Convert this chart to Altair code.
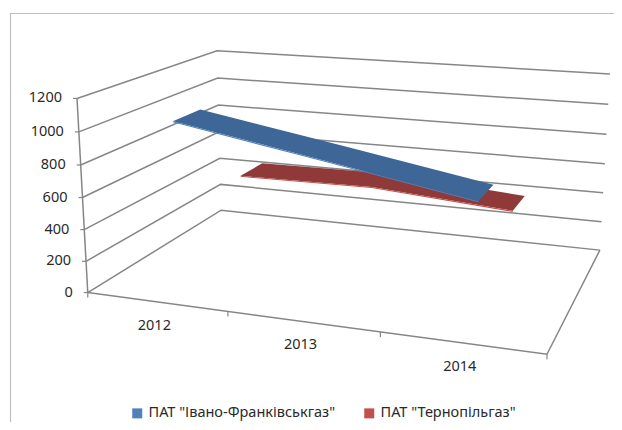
import numpy as np
import pandas as pd
import altair as alt

YEARS = ["2012", "2013", "2014"]
SERIES = ['ПАТ "Івано-Франківськгаз"', 'ПАТ "Тернопільгаз"']
BLUE = [1040, 885, 727]
RED = [470, 478, 410]
VALUE_TICKS = [0, 200, 400, 600, 800, 1000, 1200]
SERIES_VALUES = [BLUE, RED]
TOP_COLORS = ["#3E6797", "#8F3A38"]
EDGE_COLORS = ["#4F81BD", "#C0504D"]
GRID = "#868686"
FONT = "Noto Sans"

# Camera of the 3-D box: (category position, depth, value) seen at page pixel
CAL_WORLD = [(0, 0, 0), (0, 0, 1200), (0, 1, 0), (0, 1, 1200), (3, 0, 0), (3, 1, 0), (3, 1, 1200), (1, 0, 0), (2, 0, 0)]
CAL_PAGE = [(88, 291.5), (77, 98), (221, 210), (217, 51), (547, 353), (600, 250), (610, 74), (228, 313), (380, 333)]


def fit_camera():
    a, b = [], []
    for (t, d, v), (u, w) in zip(CAL_WORLD, CAL_PAGE):
        X, Y, Z = t / 3, d, v / 1200
        a.append([X, Y, Z, 1, 0, 0, 0, 0, -u * X, -u * Y, -u * Z]); b.append(u)
        a.append([0, 0, 0, 0, X, Y, Z, 1, -w * X, -w * Y, -w * Z]); b.append(w)
    s = np.linalg.lstsq(np.array(a, float), np.array(b, float), rcond=None)[0]
    return np.append(s, 1).reshape(3, 4)


CAM = fit_camera()


def proj(t, d, v):
    p = CAM @ np.array([t / 3, d, v / 1200, 1])
    return p[0] / p[2], p[1] / p[2]


def path(pid, pts, **extra):
    rows = []
    for i, (t, d, v) in enumerate(pts):
        x, y = proj(t, d, v)
        rows.append(dict(pid=pid, i=i, x=x, y=y, **extra))
    return rows


W, H = 606, 414
xs = alt.Scale(domain=[8, 8 + W], nice=False, zero=False)
ys = alt.Scale(domain=[8 + H, 8], nice=False, zero=False)
X = alt.X("x:Q", scale=xs, axis=None)
Y = alt.Y("y:Q", scale=ys, axis=None)

# box
rows = []
for v in VALUE_TICKS:
    rows += path(f"g{v}", [(0, 0, v), (0, 1, v), (3, 1, v)])
rows += path("axis", [(0, 0, 0), (0, 0, 1200)])
rows += path("floor", [(3, 1, 0), (3, 0, 0), (0, 0, 0)])
box = alt.Chart(pd.DataFrame(rows)).mark_line(color=GRID, strokeWidth=1.5).encode(
    x=X, y=Y, detail="pid:N", order="i:Q")

# ticks
t_rows = []
for v in VALUE_TICKS:
    x, y = proj(0, 0, v)
    t_rows.append(dict(x=x, y=y, x2=x - 4, y2=y))
for t in range(4):
    x, y = proj(t, 0, 0)
    t_rows.append(dict(x=x, y=y, x2=x, y2=y + 5))
ticks = alt.Chart(pd.DataFrame(t_rows)).mark_rule(color=GRID, strokeWidth=1.2).encode(
    x=X, y=Y, x2="x2:Q", y2="y2:Q")

# labels
vl = pd.DataFrame([dict(x=proj(0, 0, v)[0] - 15, y=proj(0, 0, v)[1], s=str(v)) for v in VALUE_TICKS])
val_text = alt.Chart(vl).mark_text(align="right", baseline="middle", font=FONT, fontSize=14.5, color="#2A2A2A").encode(
    x=X, y=Y, text="s:N")
cl = pd.DataFrame([dict(x=proj(i + .5, 0, 0)[0] - 2, y=proj(i + .5, 0, 0)[1] + 24, s=yr) for i, yr in enumerate(YEARS)])
cat_text = alt.Chart(cl).mark_text(align="center", baseline="middle", font=FONT, fontSize=14.5, color="#2A2A2A").encode(
    x=X, y=Y, text="s:N")

# ribbons, drawn back row first
DEPTHS = [(0.153, 0.347), (0.653, 0.847)]
layers = []
for k in (1, 0):
    vals = SERIES_VALUES[k]
    d1, d2 = DEPTHS[k]
    ts = [i + .5 for i in range(3)]
    top_pts = [(t, d1, v) for t, v in zip(ts, vals)] + [(t, d2, v) for t, v in reversed(list(zip(ts, vals)))]
    top = pd.DataFrame(path("top", top_pts, series=SERIES[k]))
    edge_pts = [(t, d1, v) for t, v in zip(ts, vals)] + [(t, d1, v - 7) for t, v in reversed(list(zip(ts, vals)))]
    edge = pd.DataFrame(path("edge", edge_pts, series=SERIES[k]))
    layers.append(alt.Chart(top).mark_line(filled=True, fill=TOP_COLORS[k], strokeWidth=0).encode(x=X, y=Y, order="i:Q"))
    layers.append(alt.Chart(edge).mark_line(filled=True, strokeWidth=0).encode(
        x=X, y=Y, order="i:Q",
        color=alt.Color("series:N", scale=alt.Scale(domain=SERIES, range=EDGE_COLORS),
                        legend=alt.Legend(title=None, orient="none", legendX=122, legendY=398, direction="horizontal",
                                          symbolType="square", symbolSize=100, labelFont=FONT, labelFontSize=14.5,
                                          labelColor="#2A2A2A", columnPadding=26, symbolStrokeWidth=0, labelLimit=400))))

# frame
fr = pd.DataFrame([dict(pid="f", i=0, x=10.5, y=430), dict(pid="f", i=1, x=10.5, y=13.5), dict(pid="f", i=2, x=622, y=13.5)])
frame = alt.Chart(fr).mark_line(color="#BFBFBF", strokeWidth=1.2, clip=True).encode(x=X, y=Y, order="i:Q")

chart = alt.layer(frame, box, ticks, val_text, cat_text, *layers).properties(
    width=W, height=H, padding=0, autosize=alt.AutoSizeParams(type="none")
).configure_view(stroke=None)

chart.save("out.html", embed_options={"renderer": "svg", "actions": False})
